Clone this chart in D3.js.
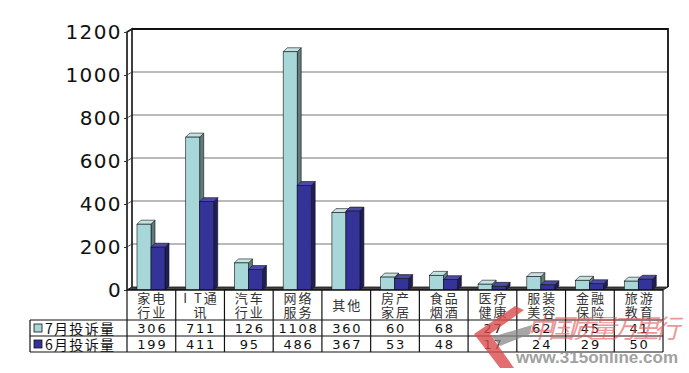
<!DOCTYPE html>
<html>
<head>
<meta charset="utf-8">
<script src="https://cdn.jsdelivr.net/npm/d3@7"></script>
<style>
  body { margin: 0; background: #fff; }
  svg { display: block; }
</style>
</head>
<body>
<div id="chart"></div>
<script>
// data
var categories = ['家电行业', 'IT通讯', '汽车行业', '网络服务', '其他', '房产家居', '食品烟酒', '医疗健康', '服装美容', '金融保险', '旅游教育'];
var headerLines = [['家电', '行业'], ['I T通', '讯'], ['汽车', '行业'], ['网络', '服务'], ['其他'], ['房产', '家居'], ['食品', '烟酒'], ['医疗', '健康'], ['服装', '美容'], ['金融', '保险'], ['旅游', '教育']];
var seriesNames = ['7月投诉量', '6月投诉量'];
var july = [306, 711, 126, 1108, 360, 60, 68, 27, 62, 45, 41];
var june = [199, 411, 95, 486, 367, 53, 48, 17, 24, 29, 50];
var yTicks = [0, 200, 400, 600, 800, 1000, 1200];

//colors
var lightFront = '#a8d7d9';
var lightSide = '#5f7b7c';
var lightTop = '#c4e4e4';
var darkFront = '#333399';
var darkSide = '#1e1e5a';
var darkTop = '#4a4aa8';

var W = 689, H = 373;
var left = 127, right = 663;   // front edge of the floor
var dx = 5, dy = 3;             // depth of the walls
var bdx = 4, bdy = 4;           // depth of a bar
var floorY = 290;

var svg = d3.select('#chart').append('svg')
  .attr('width', W).attr('height', H);

var x = d3.scaleBand().domain(categories).range([left, right]);
var xs = d3.scaleBand().domain(seriesNames).range([10, 38]);
var yWall = d3.scaleLinear().domain([0, 1200]).range([floorY - dy, 29]);
var yFront = d3.scaleLinear().domain([0, 1200]).range([floorY, 32]);

//back wall gridlines
svg.append('g').selectAll('line')
  .data(yTicks.slice(1, -1))
  .enter().append('line')
  .attr('x1', left + dx).attr('x2', right + dx)
  .attr('y1', function(d) { return yWall(d); })
  .attr('y2', function(d) { return yWall(d); })
  .attr('stroke', '#777').attr('stroke-width', 1.2);

//top and right edge of back wall
svg.append('path')
  .attr('d', 'M' + (left + dx) + ',' + yWall(1200) + 'H' + (right + dx) + 'V' + yWall(0))
  .attr('fill', 'none').attr('stroke', '#111').attr('stroke-width', 1.8);

//left wall
svg.append('path')
  .attr('d', 'M' + left + ',' + floorY + 'V' + yFront(1200) + 'L' + (left + dx) + ',' + yWall(1200) + 'V' + yWall(0))
  .attr('fill', 'none').attr('stroke', '#111').attr('stroke-width', 1.6);
svg.append('g').selectAll('line')
  .data(yTicks)
  .enter().append('line')
  .attr('x1', left).attr('x2', left + dx)
  .attr('y1', function(d) { return yFront(d); })
  .attr('y2', function(d) { return yWall(d); })
  .attr('stroke', '#333').attr('stroke-width', 0.8);

//floor
svg.append('path')
  .attr('d', 'M' + left + ',' + floorY + 'L' + (left + dx) + ',' + (floorY - dy) + 'H' + (right + dx) + 'L' + right + ',' + floorY + 'Z')
  .attr('fill', '#444').attr('stroke', '#111').attr('stroke-width', 0.8);

//y axis labels
var yAxis = svg.append('g')
  .attr('transform', 'translate(' + left + ',0)')
  .call(d3.axisLeft(yFront).tickValues(yTicks).tickSize(3).tickPadding(2).tickFormat(d3.format('d')));
yAxis.select('.domain').remove();
yAxis.selectAll('line').attr('stroke', '#333');
yAxis.selectAll('text')
  .attr('font-family', 'DejaVu Sans, sans-serif')
  .attr('font-size', 20)
  .attr('letter-spacing', 1.4)
  .attr('fill', '#111');

//3d bars
var barData = [];
categories.forEach(function(c, i) {
  barData.push({cat: c, s: seriesNames[0], v: july[i], front: lightFront, side: lightSide, top: lightTop});
  barData.push({cat: c, s: seriesNames[1], v: june[i], front: darkFront, side: darkSide, top: darkTop});
});

var bar = svg.append('g').selectAll('g')
  .data(barData)
  .enter().append('g');

function bx(d) { return x(d.cat) + xs(d.s); }
var bw = xs.bandwidth();

bar.append('path')
  .attr('d', function(d) {
    var x0 = bx(d) + bw, y0 = yFront(d.v);
    return 'M' + x0 + ',' + y0 + 'L' + (x0 + bdx) + ',' + (y0 - bdy) + 'V' + (floorY - bdy) + 'L' + x0 + ',' + floorY + 'Z';
  })
  .attr('fill', function(d) { return d.side; })
  .attr('stroke', '#111').attr('stroke-width', 0.6);

bar.append('path')
  .attr('d', function(d) {
    var x0 = bx(d), y0 = yFront(d.v);
    return 'M' + x0 + ',' + y0 + 'L' + (x0 + bdx) + ',' + (y0 - bdy) + 'H' + (x0 + bw + bdx) + 'L' + (x0 + bw) + ',' + y0 + 'Z';
  })
  .attr('fill', function(d) { return d.top; })
  .attr('stroke', '#111').attr('stroke-width', 0.6);

bar.append('rect')
  .attr('x', function(d) { return bx(d); })
  .attr('y', function(d) { return yFront(d.v); })
  .attr('width', bw)
  .attr('height', function(d) { return floorY - yFront(d.v); })
  .attr('fill', function(d) { return d.front; })
  .attr('stroke', '#111').attr('stroke-width', 0.6);

//data table under the chart
var tLeft = 30;
var rowY = [floorY, 320, 336, 352];
var table = svg.append('g');

table.append('rect')
  .attr('x', left).attr('y', floorY)
  .attr('width', right - left).attr('height', rowY[3] - floorY)
  .attr('fill', '#fff');

[rowY[1], rowY[2], rowY[3]].forEach(function(yy) {
  table.append('line')
    .attr('x1', tLeft).attr('x2', right)
    .attr('y1', yy).attr('y2', yy)
    .attr('stroke', '#111').attr('stroke-width', 1.2);
});
table.append('line')
  .attr('x1', left).attr('x2', right)
  .attr('y1', floorY).attr('y2', floorY)
  .attr('stroke', '#111').attr('stroke-width', 1.4);
table.append('line')
  .attr('x1', tLeft).attr('x2', tLeft)
  .attr('y1', rowY[1]).attr('y2', rowY[3])
  .attr('stroke', '#111').attr('stroke-width', 1.2);
table.selectAll('.vline')
  .data(categories.concat(['end']))
  .enter().append('line')
  .attr('class', 'vline')
  .attr('x1', function(d) { return d == 'end' ? right : x(d); })
  .attr('x2', function(d) { return d == 'end' ? right : x(d); })
  .attr('y1', floorY).attr('y2', rowY[3])
  .attr('stroke', '#111').attr('stroke-width', 1.2);

//category names
table.selectAll('.cat')
  .data(categories)
  .enter().append('text')
  .attr('class', 'cat')
  .attr('x', function(d) { return x(d) + x.bandwidth() / 2 + 1; })
  .attr('y', function(d, i) { return headerLines[i].length == 1 ? 310 : 303; })
  .attr('text-anchor', 'middle')
  .attr('font-family', 'Noto Sans CJK SC, sans-serif')
  .attr('font-size', 13)
  .attr('letter-spacing', 2)
  .attr('fill', '#333')
  .each(function(d, i) {
    var t = d3.select(this);
    headerLines[i].forEach(function(line, k) {
      t.append('tspan')
        .attr('x', x(d) + x.bandwidth() / 2 + 1)
        .attr('dy', k == 0 ? 0 : 14)
        .text(line);
    });
  });

//values
[july, june].forEach(function(vals, r) {
  table.selectAll('.val' + r)
    .data(vals)
    .enter().append('text')
    .attr('class', 'val' + r)
    .attr('x', function(d, i) { return x(categories[i]) + x.bandwidth() / 2 + 1; })
    .attr('y', rowY[r + 1] + 13)
    .attr('text-anchor', 'middle')
    .attr('font-family', 'DejaVu Sans, sans-serif')
    .attr('font-size', 13)
    .attr('letter-spacing', 1.8)
    .attr('fill', '#111')
    .text(function(d) { return d; });
});

//legend keys inside the table
var keys = [{name: seriesNames[0], fill: lightFront}, {name: seriesNames[1], fill: darkFront}];
keys.forEach(function(k, r) {
  table.append('rect')
    .attr('x', 34).attr('y', rowY[r + 1] + 4)
    .attr('width', 8).attr('height', 8)
    .attr('fill', k.fill).attr('stroke', '#111').attr('stroke-width', 0.8);
  table.append('text')
    .attr('x', 45).attr('y', rowY[r + 1] + 13.5)
    .attr('font-family', 'Noto Sans CJK SC, sans-serif')
    .attr('font-size', 14)
    .attr('letter-spacing', 1.3)
    .attr('fill', '#111')
    .text(k.name);
});

//watermark (semi transparent logo over the table)
var wm = svg.append('g').attr('pointer-events', 'none');
wm.append('path')
  .attr('d', 'M515,306 L474,334 L500,368 L514,368 L490,334 L524,310 Z')
  .attr('fill', '#d94b4b').attr('opacity', 0.8);
wm.append('path')
  .attr('d', 'M492,337 L532,325 L530,334 L500,346 Z')
  .attr('fill', '#888').attr('opacity', 0.75);
wm.append('text')
  .attr('x', 527).attr('y', 338)
  .attr('font-family', 'Noto Sans CJK SC, sans-serif')
  .attr('font-size', 26)
  .attr('font-style', 'italic')
  .attr('textLength', 153)
  .attr('fill', '#e05555').attr('opacity', 0.6)
  .text('中国质量万里行');
wm.append('text')
  .attr('x', 516).attr('y', 363)
  .attr('font-family', 'Liberation Sans, sans-serif')
  .attr('font-size', 17)
  .attr('font-weight', 'bold')
  .attr('textLength', 162)
  .attr('fill', '#8a8a8a').attr('opacity', 0.8)
  .text('www.315online.com');
</script>
</body>
</html>
